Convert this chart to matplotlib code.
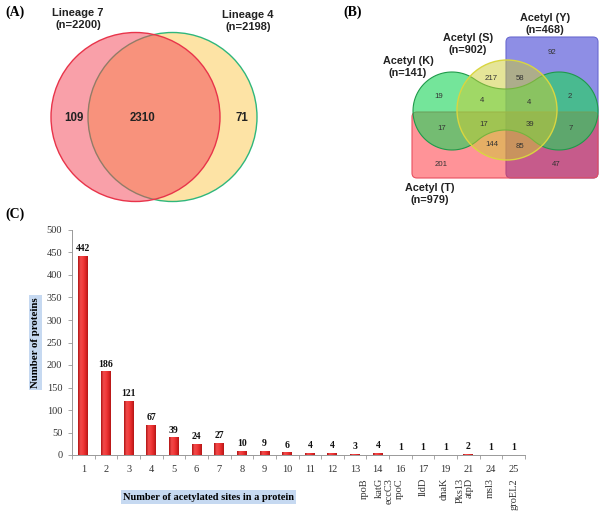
import numpy as np
import matplotlib
matplotlib.use("Agg")
import matplotlib.pyplot as plt
from matplotlib.patches import Circle, FancyBboxPatch, Polygon
from matplotlib.colors import LinearSegmentedColormap

# ---- data ----
lineage_names = ["Lineage 7\n(n=2200)", "Lineage 4\n(n=2198)"]
lineage_counts = [109, 2310, 71]   # only L7, both, only L4

acetyl_names = ["Acetyl (K)\n(n=141)", "Acetyl (S)\n(n=902)",
                "Acetyl (Y)\n(n=468)", "Acetyl (T)\n(n=979)"]
# region counts of the 4-set diagram
acetyl_regions = {"Y": 92, "S": 217, "SY": 58, "K": 19, "KS": 4, "KSY": 4,
                  "KY": 2, "KT": 17, "KST": 17, "KSTY": 39, "KTY": 7,
                  "ST": 144, "STY": 85, "T": 201, "TY": 47}

sites = ["1", "2", "3", "4", "5", "6", "7", "8", "9", "10", "11", "12", "13",
         "14", "16", "17", "19", "21", "24", "25"]
proteins = [442, 186, 121, 67, 39, 24, 27, 10, 9, 6, 4, 4, 3, 4, 1, 1, 1, 2, 1, 1]
genes = ["rpoB", "katG", "eccC3", "rpoC", "lldD", "dnaK", "Pks13", "atpD", "msl3", "groEL2"]
gene_pos = [13.4, 14.05, 14.5, 14.95, 16.0, 16.95, 17.65, 18.05, 18.95, 20.0]

SANS = "Liberation Sans"
SERIF = "Liberation Serif"

fig = plt.figure(figsize=(6.04, 5.17), dpi=100)

# overlay axes in pixel units for the two Venn panels
va = fig.add_axes([0, 0, 1, 1])
va.set_xlim(0, 604)
va.set_ylim(517, 0)
va.axis("off")

# ---- (A) ----
va.text(5, 12, "(A)", family=SERIF, weight="bold", fontsize=10, va="center")
va.add_patch(Circle((172.5, 117), 84.5, facecolor="#fde3a5", edgecolor="#2fb77c", lw=1))
va.add_patch(Circle((135.5, 117), 84.5, facecolor=(0.96, 0.26, 0.33, 0.5),
                    edgecolor="#e8344a", lw=1))
va.text(78, 19, lineage_names[0], family=SANS, weight="bold", fontsize=8,
        ha="center", va="center", linespacing=1.2, color="#222222")
va.text(248, 21, lineage_names[1], family=SANS, weight="bold", fontsize=8,
        ha="center", va="center", linespacing=1.2, color="#222222")
for xx, v in zip([74, 143, 242], lineage_counts):
    va.text(xx, 118, str(v), family=SANS, weight="bold", fontsize=8.3,
            ha="center", va="center", color="#222222")

# ---- (B) ----
va.text(343, 12, "(B)", family=SERIF, weight="bold", fontsize=10, va="center")


def dumbbell(cl, cr, cy, r, d_top, d_bot, n=80):
    xm = (cl + cr) / 2
    half = (cr - cl) / 2
    rt = (half ** 2 + d_top ** 2 - r ** 2) / (2 * (r - d_top))
    rb = (half ** 2 + d_bot ** 2 - r ** 2) / (2 * (r - d_bot))
    cty = cy - d_top - rt
    cby = cy + d_bot + rb
    pts = []
    a0 = np.arctan2(cty - cy, xm - cl)
    a1 = np.arctan2(cby - cy, xm - cl) - 2 * np.pi
    t = np.linspace(a0, a1, n)
    pts += list(zip(cl + r * np.cos(t), cy + r * np.sin(t)))
    t = np.linspace(np.arctan2(cy - cby, cl - xm), np.arctan2(cy - cby, cr - xm), n)
    pts += list(zip(xm + rb * np.cos(t), cby + rb * np.sin(t)))
    t = np.linspace(np.arctan2(cby - cy, xm - cr), np.arctan2(cty - cy, xm - cr), n)
    pts += list(zip(cr + r * np.cos(t), cy + r * np.sin(t)))
    t = np.linspace(np.arctan2(cy - cty, cr - xm), np.arctan2(cy - cty, cl - xm), n)
    pts += list(zip(xm + rt * np.cos(t), cty + rt * np.sin(t)))
    return np.array(pts)


va.add_patch(FancyBboxPatch((506, 37), 92, 141, boxstyle="round,pad=0,rounding_size=5",
                            facecolor=(0.12, 0.12, 0.80, 0.5), edgecolor="#6a6ad0", lw=0.8))
va.add_patch(FancyBboxPatch((412, 112), 186, 66, boxstyle="round,pad=0,rounding_size=5",
                            facecolor=(1.0, 0.16, 0.2, 0.5), edgecolor="#e85060", lw=0.8))
va.add_patch(Polygon(dumbbell(452, 559, 111, 39, 22, 19), closed=True,
                     facecolor=(0.12, 0.84, 0.36, 0.62), edgecolor="#1f9a4a", lw=0.8))
va.add_patch(Circle((507, 110), 50, facecolor=(0.80, 0.80, 0.20, 0.5),
                    edgecolor="#d9d640", lw=1))

for (xx, yy), txt in zip([(408, 67), (468, 44), (545, 24), (430, 194)], acetyl_names):
    va.text(xx, yy, txt, family=SANS, weight="bold", fontsize=7.8,
            ha="center", va="center", linespacing=1.2, color="#222222")

region_xy = {"Y": (552, 53), "S": (491, 78), "SY": (520, 79), "K": (439, 96),
             "KS": (482, 100), "KSY": (529, 102), "KY": (570, 97), "KT": (442, 129),
             "KST": (484, 124), "KSTY": (530, 124), "KTY": (571, 128),
             "ST": (492, 145), "STY": (520, 147), "T": (441, 165), "TY": (556, 165)}
for key, v in acetyl_regions.items():
    xx, yy = region_xy[key]
    va.text(xx, yy, str(v), family=SANS, fontsize=5.6, ha="center", va="center",
            color="#333333")

# ---- (C) ----
fig.text(5 / 604, 1 - 214 / 517, "(C)", family=SERIF, weight="bold", fontsize=10,
         va="center")
ax = fig.add_axes([72 / 604, 1 - 455 / 517, 453 / 604, 225 / 517])
x = np.arange(1, len(sites) + 1)
bars = ax.bar(x, proteins, width=0.44, color="#e83030", edgecolor="none", zorder=2)
cmap = LinearSegmentedColormap.from_list(
    "cyl", ["#b01414", "#f04a4a", "#f23c3c", "#e02828", "#b41616"])
grad = np.linspace(0, 1, 64)[None, :]
for b in bars:
    x0, w, h = b.get_x(), b.get_width(), b.get_height()
    im = ax.imshow(grad, extent=[x0, x0 + w, 0, h], aspect="auto", cmap=cmap,
                   origin="lower", zorder=3)
    im.set_clip_path(b)
    ax.annotate(str(h), (x0 + w / 2, h), xytext=(0, 2), textcoords="offset points",
                ha="center", va="bottom", family=SERIF, weight="bold", fontsize=7,
                color="#111111")

ax.set_xlim(0.5, len(sites) + 0.5)
ax.set_ylim(0, 500)
ax.set_yticks(np.arange(0, 501, 50))
ax.set_xticks(x)
ax.set_xticklabels(sites)
ax.set_xticks(np.arange(0.5, len(sites) + 1, 1), minor=True)
ax.tick_params(axis="x", which="major", length=0, pad=7, labelsize=7.5, labelcolor="#333333")
ax.tick_params(axis="x", which="minor", length=3, color="#999999", width=0.6)
ax.tick_params(axis="y", length=3, color="#999999", width=0.6, pad=4,
               labelsize=7.5, labelcolor="#333333")
for lab in ax.get_xticklabels() + ax.get_yticklabels():
    lab.set_family(SERIF)
for s in ["top", "right"]:
    ax.spines[s].set_visible(False)
for s in ["left", "bottom"]:
    ax.spines[s].set_color("#999999")
    ax.spines[s].set_linewidth(0.7)

ax.set_ylabel("Number of proteins", family=SERIF, weight="bold", fontsize=7.8,
              bbox=dict(facecolor="#c6d9f1", edgecolor="none", pad=1.5))
ax.yaxis.set_label_coords(-0.071, 0.5)
ax.yaxis.label.set_horizontalalignment("center")
ax.set_xlabel("Number of acetylated sites in a protein", family=SERIF, weight="bold",
              fontsize=7.5, bbox=dict(facecolor="#c6d9f1", edgecolor="none", pad=1.5))
ax.xaxis.set_label_coords(0.302, -0.187)
ax.xaxis.label.set_verticalalignment("center")

for g, p in zip(genes, gene_pos):
    ax.text(p, -0.102, g, transform=ax.get_xaxis_transform(), rotation=90,
            ha="center", va="top", family=SERIF, fontsize=7.5, color="#333333")

fig.savefig("out.png", dpi=100)
